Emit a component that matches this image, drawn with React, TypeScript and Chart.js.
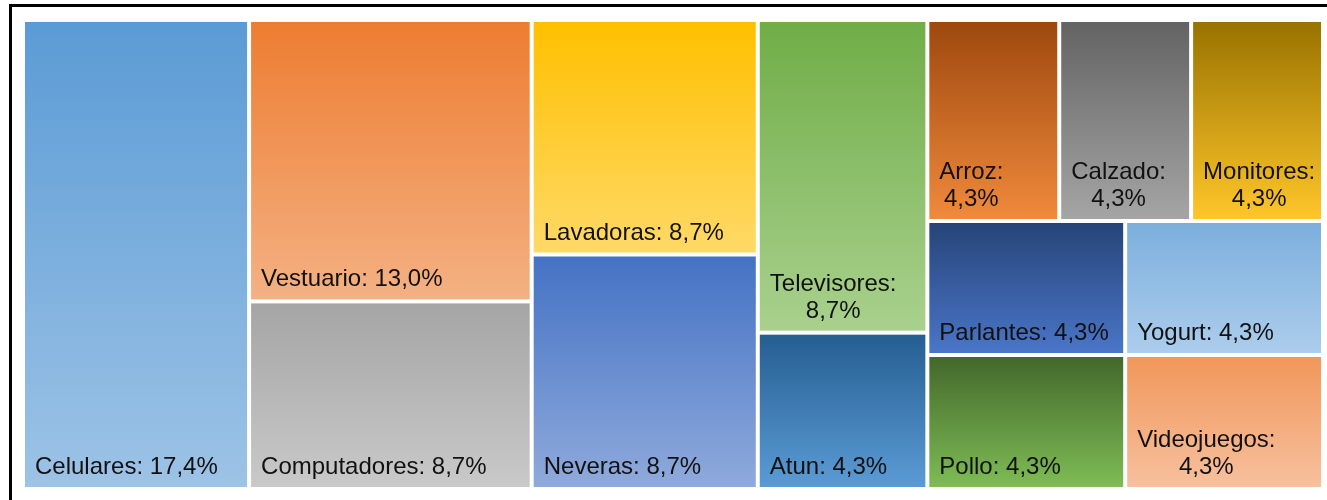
import React, { useEffect, useRef } from "react";
import { Chart, registerables } from "chart.js";

Chart.register(...registerables);

// ---- Data ----
const categories = [
  "Celulares",
  "Vestuario",
  "Computadores",
  "Lavadoras",
  "Neveras",
  "Televisores",
  "Atun",
  "Arroz",
  "Calzado",
  "Monitores",
  "Parlantes",
  "Pollo",
  "Yogurt",
  "Videojuegos",
];
const counts = [4, 3, 2, 2, 2, 2, 1, 1, 1, 1, 1, 1, 1, 1];
// how many consecutive items share each strip of the treemap
const stripSizes = [1, 2, 2, 2, 3, 2, 1, 1];

const topColors = [
  "#5B9BD5", "#ED7D31", "#A5A5A5", "#FFC000", "#4472C4", "#70AD47", "#255E91",
  "#9E480E", "#636363", "#997300", "#264478", "#43682B", "#7CAFDD", "#F1975A",
];
const bottomColors = [
  "#9DC3E6", "#F4B183", "#C9C9C9", "#FFD966", "#8FAADC", "#A9D18E", "#5B9BD5",
  "#F08A3C", "#A5A5A5", "#FFC62A", "#4A76C8", "#7EBC55", "#ACCDEC", "#F7C09E",
];

// scale domain (proportional to plot area)
const AREA_W = 1300;
const AREA_H = 469;

type R = { x: number; y: number; w: number; h: number };

function layoutTreemap(values: number[], strips: number[], W: number, H: number): R[] {
  let x = 0, y = 0, w = W, h = H;
  let i = 0;
  const rects: R[] = [];
  for (const n of strips) {
    const items = values.slice(i, i + n);
    const remaining = values.slice(i).reduce((a, b) => a + b, 0);
    const sum = items.reduce((a, b) => a + b, 0);
    i += n;
    if (h <= w) {
      const sw = (w * sum) / remaining;
      let yy = y;
      for (const v of items) {
        const ih = (h * v) / sum;
        rects.push({ x, y: yy, w: sw, h: ih });
        yy += ih;
      }
      x += sw;
      w -= sw;
    } else {
      const sh = (h * sum) / remaining;
      let xx = x;
      for (const v of items) {
        const iw = (w * v) / sum;
        rects.push({ x: xx, y, w: iw, h: sh });
        xx += iw;
      }
      y += sh;
      h -= sh;
    }
  }
  return rects;
}

const FONT = '24px "Liberation Sans", Arial, sans-serif';

export default function App() {
  const ref = useRef<HTMLCanvasElement | null>(null);

  useEffect(() => {
    if (!ref.current) return;
    const total = counts.reduce((a, b) => a + b, 0);
    const rects = layoutTreemap(counts, stripSizes, AREA_W, AREA_H);

    const treemapPlugin = {
      id: "treemapCells",
      beforeDraw(chart: any) {
        const ctx = chart.ctx;
        ctx.save();
        ctx.fillStyle = "#ffffff";
        ctx.fillRect(0, 0, chart.width, chart.height);
        ctx.fillStyle = "#000000";
        ctx.fillRect(9, 4, chart.width - 9, 3);
        ctx.fillRect(9, 4, 3, chart.height - 4);
        ctx.restore();
      },
      afterDatasetsDraw(chart: any) {
        const ctx = chart.ctx;
        const xs = chart.scales.x;
        const ys = chart.scales.y;
        ctx.save();
        rects.forEach((r, i) => {
          const x0 = xs.getPixelForValue(r.x) + 2;
          const x1 = xs.getPixelForValue(r.x + r.w) - 2;
          const y0 = ys.getPixelForValue(r.y) + 2;
          const y1 = ys.getPixelForValue(r.y + r.h) - 2;
          const g = ctx.createLinearGradient(0, y0, 0, y1);
          g.addColorStop(0, topColors[i]);
          g.addColorStop(1, bottomColors[i]);
          ctx.fillStyle = g;
          ctx.fillRect(x0, y0, x1 - x0, y1 - y0);

          const pct = ((counts[i] / total) * 100).toFixed(1).replace(".", ",") + "%";
          const name = categories[i] + ":";
          ctx.font = FONT;
          ctx.fillStyle = "#111111";
          ctx.textBaseline = "alphabetic";
          ctx.textAlign = "left";
          const pad = 10;
          const full = name + " " + pct;
          const avail = x1 - x0 - 2 * pad;
          const baseY = y1 - 13;
          if (ctx.measureText(full).width <= avail) {
            ctx.fillText(full, x0 + pad, baseY);
          } else {
            const lines = [name, pct];
            const ws = lines.map((l) => ctx.measureText(l).width);
            const bw = Math.max(...ws);
            const lh = 27;
            lines.forEach((l, k) => {
              const ly = baseY - (lines.length - 1 - k) * lh;
              ctx.fillText(l, x0 + pad + (bw - ws[k]) / 2, ly);
            });
          }
        });
        ctx.restore();
      },
    };

    const chart = new Chart(ref.current, {
      type: "scatter",
      data: {
        datasets: [
          {
            label: "Categorías",
            data: rects.map((r) => ({ x: r.x + r.w / 2, y: r.y + r.h / 2 })),
            pointRadius: 0,
            pointHoverRadius: 0,
          },
        ],
      },
      options: {
        responsive: false,
        animation: false,
        devicePixelRatio: 1,
        layout: { padding: { left: 23, right: 4, top: 20, bottom: 11 } },
        scales: {
          x: { type: "linear", min: 0, max: AREA_W, display: false },
          y: { type: "linear", min: 0, max: AREA_H, reverse: true, display: false },
        },
        plugins: {
          legend: { display: false },
          tooltip: { enabled: false },
          title: { display: false },
        },
        events: [],
      },
      plugins: [treemapPlugin],
    });
    return () => chart.destroy();
  }, []);

  return (
    <div style={{ position: "absolute", left: 0, top: 0, width: 1327, height: 500, background: "#fff" }}>
      <canvas ref={ref} width={1327} height={500} style={{ display: "block" }} />
    </div>
  );
}
